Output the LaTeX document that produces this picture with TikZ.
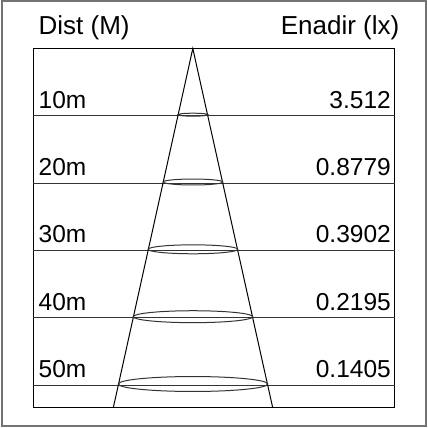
\documentclass[tikz,border=0pt]{standalone}
\usepackage{fontspec}
\setmainfont{Liberation Sans}
\begin{document}
\begin{tikzpicture}[x=1pt,y=-1pt,
  lbl/.style={inner sep=0pt,font=\fontsize{24.5}{28}\selectfont},
  hdr/.style={inner sep=0pt,font=\fontsize{26}{30}\selectfont},
  rowline/.style={draw=black!80,line width=1pt},
  ring/.style={draw=black!80,line width=1pt},
  conel/.style={draw=black,line width=1pt}]
\useasboundingbox (0,0) rectangle (428,428);
\draw[draw=black!55,line width=2pt] (1.5,1.5) rectangle (426,426);
% inner box
\coordinate (tl) at (33,48.5);
\coordinate (br) at (394.5,407.7);
\draw[black,line width=1pt] (tl) rectangle (br);
% rows
\foreach \y/\n in {115.7/1,183/2,250.3/3,317.7/4,385/5}{
  \coordinate (L\n) at (33,\y);
  \coordinate (R\n) at (394.5,\y);
  \draw[rowline] (L\n) -- (R\n);
}
% cone
\coordinate (apex) at (192.8,48.5);
\coordinate (bl) at (113.3,407.7);
\coordinate (bre) at (272.7,407.7);
\draw[conel] (bl) -- (apex) -- (bre);
% rings
\foreach \y/\rx in {115.7/14.9,183/29.8,250.3/44.8,317.7/59.7,385/74.7}{
  \draw[ring] (193,\y-1) ellipse [x radius=\rx, y radius=\rx/10];
}
% headers
\node[hdr,anchor=base west] (h1) at (38.5,35) {Dist (M)};
\node[hdr,anchor=base east] (h2) at (399.5,35) {Enadir (lx)};
% labels
\foreach \y/\d/\v [count=\i] in {115.7/10m/3.512,183/20m/0.8779,250.3/30m/0.3902,317.7/40m/0.2195,385/50m/0.1405}{
  \node[lbl,anchor=base west] (d\i) at (38.5,\y-7.4) {\d};
  \node[lbl,anchor=base east] (v\i) at (391,\y-7.4) {\v};
}
\end{tikzpicture}
\end{document}
